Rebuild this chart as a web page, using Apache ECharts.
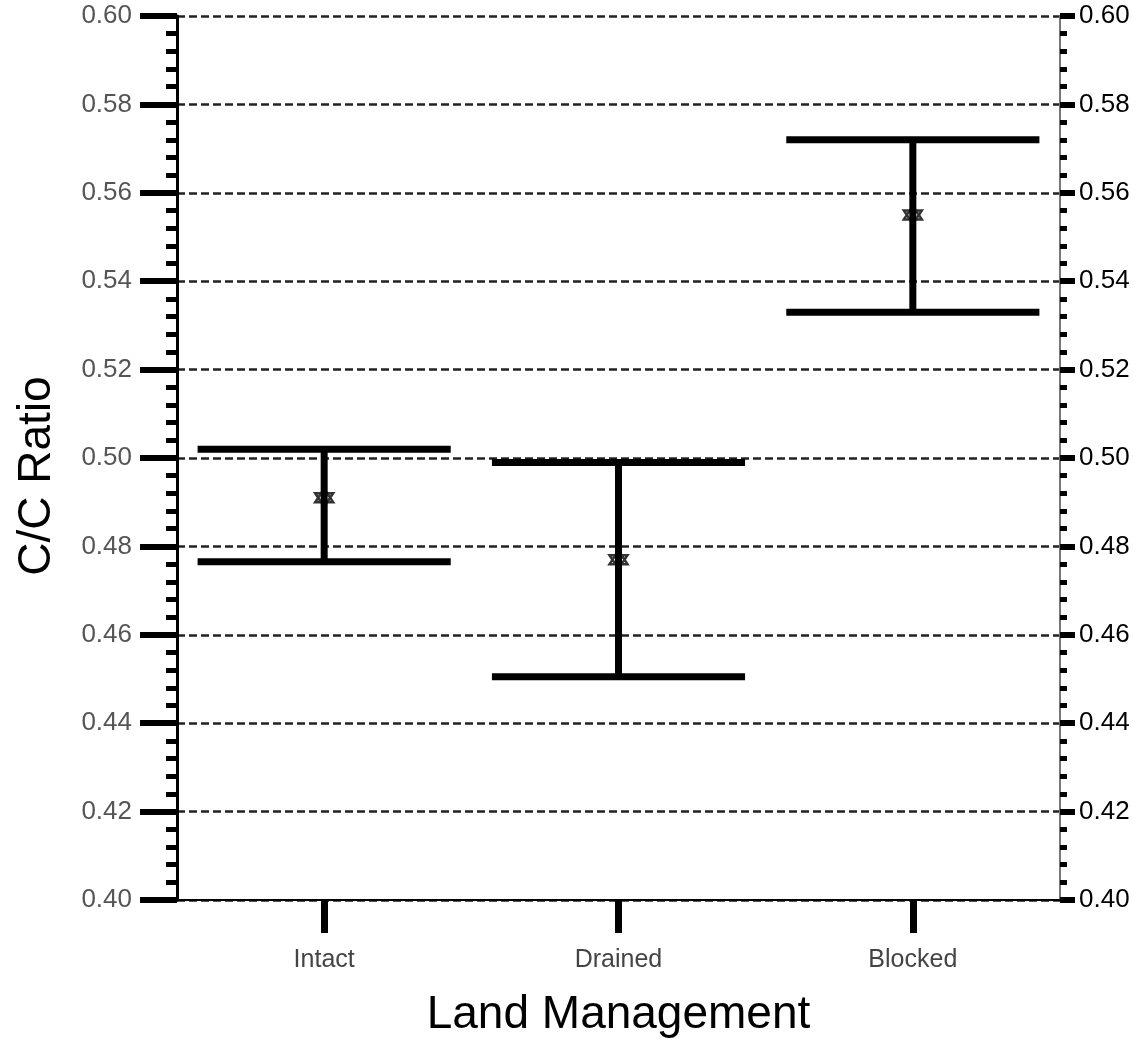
<!DOCTYPE html>
<html>
<head>
<meta charset="utf-8">
<title>C/C Ratio by Land Management</title>
<script src="https://cdn.jsdelivr.net/npm/echarts@6/dist/echarts.min.js"></script>
<style>
  html, body { margin: 0; padding: 0; background: #fff; }
  #chart { width: 1133px; height: 1039px; }
</style>
</head>
<body>
<div id="chart"></div>
<script>
// Land management treatments
const categories = ['Intact', 'Drained', 'Blocked'];
// Mean C/C ratio per treatment
const means = [0.491, 0.477, 0.555];
// Upper and lower ends of the error bars
const upper = [0.502, 0.499, 0.572];
const lower = [0.4765, 0.4505, 0.533];
// Y axis range and step
const yMin = 0.40, yMax = 0.60, yStep = 0.02;

const FONT = '"Liberation Sans", Arial, sans-serif';

const errorData = categories.map((c, i) => [i, lower[i], upper[i]]);
const meanData = categories.map((c, i) => [i, means[i]]);

// six-pointed star outline used as the mean marker
const hexagram = 'path://M0,-10L8.66,5L-8.66,5Z M0,10L8.66,-5L-8.66,-5Z';

const chart = echarts.init(document.getElementById('chart'), null, { renderer: 'canvas' });

const yCommon = {
  type: 'value',
  min: yMin,
  max: yMax,
  interval: yStep,
  minorTick: { show: true, splitNumber: 5 },
  axisLabel: {
    fontFamily: FONT,
    fontSize: 26,
    formatter: v => v.toFixed(2)
  }
};

chart.setOption({
  animation: false,
  backgroundColor: '#fff',
  grid: { left: 177, right: 73, top: 16, bottom: 139, containLabel: false, outerBoundsMode: 'none' },
  xAxis: {
    type: 'category',
    data: categories,
    boundaryGap: true,
    name: 'Land Management',
    nameLocation: 'middle',
    nameGap: 92,
    nameTextStyle: { fontFamily: FONT, fontSize: 46, color: '#000' },
    axisLine: { show: true, onZero: false, lineStyle: { color: '#000', width: 2 } },
    axisTick: { show: true, alignWithLabel: true, length: 33, lineStyle: { color: '#000', width: 7 } },
    axisLabel: { fontFamily: FONT, fontSize: 25, color: '#444', margin: 48 },
    splitLine: { show: false }
  },
  yAxis: [
    Object.assign({}, yCommon, {
      position: 'left',
      name: 'C/C Ratio',
      nameLocation: 'middle',
      nameRotate: 90,
      nameGap: 117,
      nameTextStyle: { fontFamily: FONT, fontSize: 46, color: '#000', padding: [0, 36, 0, 0] },
      axisLine: { show: true, lineStyle: { color: '#000', width: 3 } },
      axisTick: { show: true, length: 37, lineStyle: { color: '#000', width: 6 } },
      minorTick: { show: true, splitNumber: 5, length: 11, lineStyle: { color: '#000', width: 5 } },
      axisLabel: Object.assign({}, yCommon.axisLabel, { color: '#555', margin: 45 }),
      splitLine: { show: true, lineStyle: { color: '#222', width: 2.5, type: [8, 4] } }
    }),
    Object.assign({}, yCommon, {
      position: 'right',
      axisLine: { show: true, lineStyle: { color: '#777', width: 2 } },
      axisTick: { show: true, length: 15, lineStyle: { color: '#000', width: 6 } },
      minorTick: { show: true, splitNumber: 5, length: 7, lineStyle: { color: '#000', width: 5 } },
      axisLabel: Object.assign({}, yCommon.axisLabel, { color: '#000', margin: 19 }),
      splitLine: { show: false }
    })
  ],
  series: [
    {
      type: 'custom',
      name: 'error',
      data: errorData,
      encode: { x: 0, y: [1, 2] },
      renderItem: function (params, api) {
        const idx = api.value(0);
        const lo = api.coord([idx, api.value(1)]);
        const hi = api.coord([idx, api.value(2)]);
        const half = api.size([1, 0])[0] * 0.43;
        const style = { stroke: '#000', lineWidth: 7, fill: null };
        return {
          type: 'group',
          children: [
            { type: 'line', shape: { x1: hi[0], y1: hi[1], x2: lo[0], y2: lo[1] }, style },
            { type: 'line', shape: { x1: hi[0] - half, y1: hi[1], x2: hi[0] + half, y2: hi[1] }, style },
            { type: 'line', shape: { x1: lo[0] - half, y1: lo[1], x2: lo[0] + half, y2: lo[1] }, style }
          ]
        };
      },
      z: 3
    },
    {
      type: 'scatter',
      name: 'mean',
      data: meanData,
      symbol: hexagram,
      symbolSize: 18,
      itemStyle: { color: 'rgba(0,0,0,0)', borderColor: '#000', borderWidth: 2.5 },
      z: 4
    }
  ]
});
</script>
</body>
</html>
